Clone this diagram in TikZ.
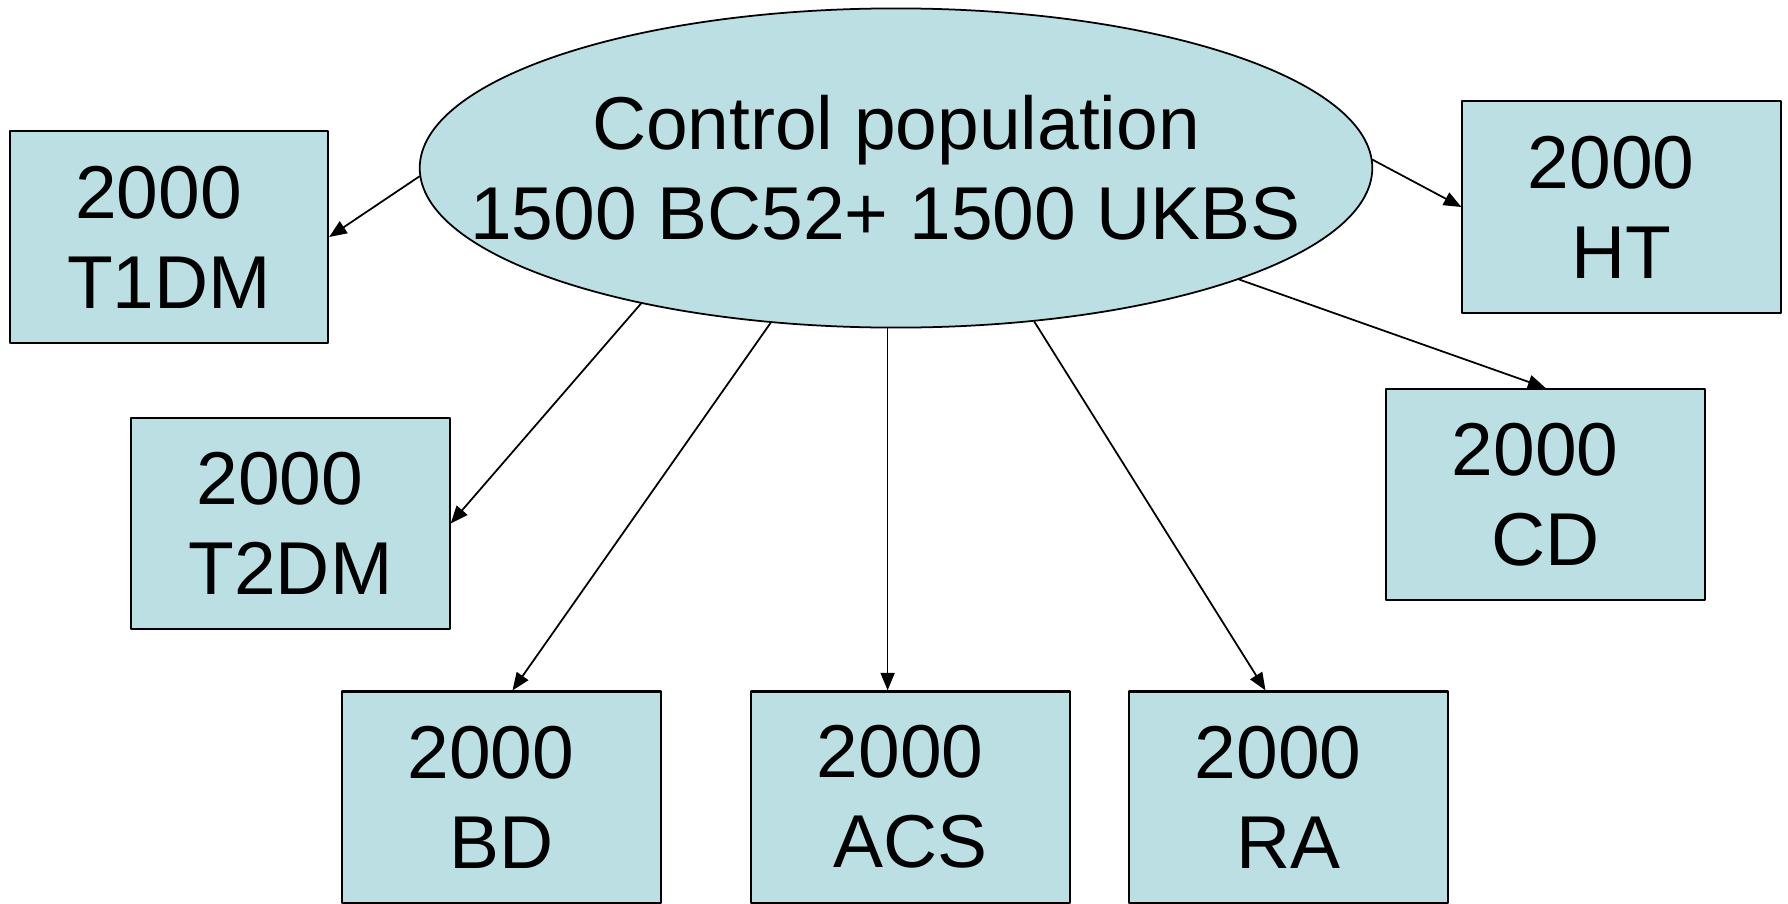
\documentclass[tikz,border=0pt]{standalone}
\usepackage{fontspec}
\setmainfont{Liberation Sans}
\usetikzlibrary{shapes.geometric,arrows.meta}
\definecolor{popfill}{HTML}{BBDFE2}

\tikzset{
  bigtext/.style={font=\fontsize{21.3}{25.6}\selectfont,align=center},
  groupbox/.style={draw,line width=0.6pt,fill=popfill,inner sep=0pt,
    minimum width=3.18cm,minimum height=2.11cm,bigtext},
  ctrlpop/.style={ellipse,draw,line width=0.5pt,fill=popfill,inner sep=0pt,
    minimum width=9.52cm,minimum height=3.19cm},
  feed/.style={line width=0.5pt,-{Triangle[length=5pt,width=4pt]}}
}

\begin{document}
\begin{tikzpicture}[x=0.01cm,y=-0.01cm,line cap=round,line join=round]
  \useasboundingbox (0,0) rectangle (1788,903);

  % control population
  \node[ctrlpop] (ctrl) at (896,168) {};
  \node[bigtext] (ctrltext) at (ctrl) {Control population\\1500 BC52+ 1500 UKBS\kern.28em};

  % case groups
  \foreach \name/\x/\y/\lbl in {t1dm/169/237/T1DM, t2dm/290.5/523.5/T2DM,
      bd/501.5/797/BD, acs/910.5/797/ACS, ra/1288.5/797/RA,
      cd/1545.5/494.5/CD, ht/1621.5/207/HT} {
    \node[groupbox] (\name) at (\x,\y) {2000\kern.28em\\\lbl};
  }

  \draw[feed] (ctrl.181) -- (t1dm.east);
  \draw[feed] (ctrl.208.5) -- (t2dm.east);
  \draw[feed] (ctrl.231) -- ([xshift=0.11cm]bd.north);
  \draw[feed] (ctrl.267) -- (ctrl.267 |- acs.north);
  \draw[feed] (ctrl.312) -- ([xshift=-0.23cm]ra.north);
  \draw[feed] (ctrl.342) -- (cd.north);
  \draw[feed] (ctrl.1) -- (ht.west);
\end{tikzpicture}
\end{document}
